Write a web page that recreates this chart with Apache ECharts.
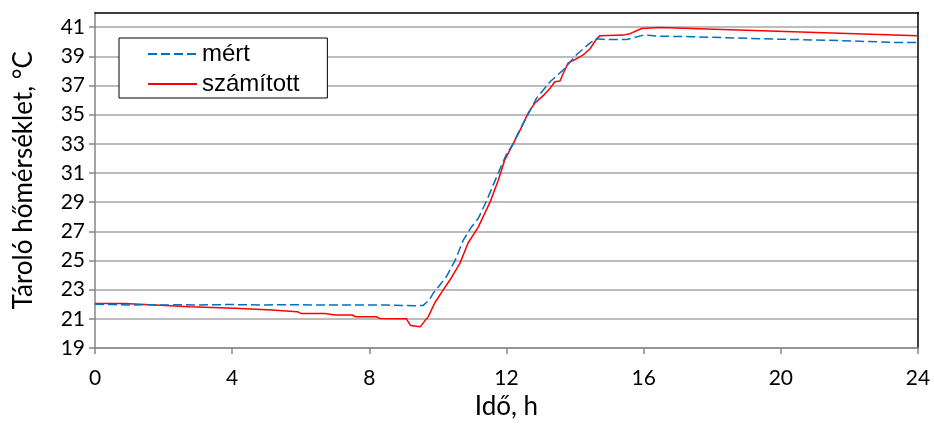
<!DOCTYPE html>
<html>
<head>
<meta charset="utf-8">
<script src="https://cdn.jsdelivr.net/npm/echarts@6/dist/echarts.min.js"></script>
<style>
html,body{margin:0;padding:0;background:#fff;}
#chart{width:934px;height:425px;}
</style>
</head>
<body>
<div id="chart"></div>
<script>
var seriesNames = ['mért', 'számított'];
var xTicks = [0, 4, 8, 12, 16, 20, 24];
var yTicks = [19, 21, 23, 25, 27, 29, 31, 33, 35, 37, 39, 41];

var mertHours = [0, 0.5, 1, 1.5, 2, 2.5, 3, 3.5, 4, 4.5, 5, 5.5, 6, 6.5, 7, 7.5, 8, 8.5, 9, 9.3, 9.57, 9.75, 9.86, 10.05, 10.25, 10.5, 10.74, 10.98, 11.18, 11.42, 11.6, 11.76, 12.0, 12.2, 12.29, 12.58, 12.87, 13.27, 13.65, 14.04, 14.43, 14.63, 14.9, 15.5, 15.99, 16.47, 17.4, 18.4, 19.4, 20.36, 21.3, 22.3, 23.27, 24];
var mertTemp = [22.0, 21.98, 21.95, 21.97, 21.95, 21.97, 21.95, 21.97, 21.98, 21.96, 21.95, 21.97, 21.96, 21.95, 21.94, 21.95, 21.95, 21.94, 21.92, 21.9, 21.92, 22.3, 22.75, 23.3, 23.9, 25.0, 26.4, 27.3, 27.9, 29.1, 30.1, 31.0, 32.3, 33.0, 33.5, 34.8, 36.1, 37.25, 38.05, 39.1, 39.9, 40.2, 40.15, 40.15, 40.45, 40.38, 40.34, 40.27, 40.2, 40.15, 40.1, 40.03, 39.95, 39.95];

var szamHours = [0, 0.85, 0.9, 1.75, 1.8, 2.77, 2.82, 4.08, 4.13, 5.15, 5.2, 5.9, 6.0, 6.7, 7.0, 7.5, 7.6, 8.2, 8.3, 9.08, 9.2, 9.48, 9.72, 9.91, 10.15, 10.35, 10.64, 10.88, 11.18, 11.52, 11.76, 11.95, 12.15, 12.39, 12.63, 12.83, 13.07, 13.27, 13.41, 13.56, 13.65, 13.8, 13.94, 14.24, 14.43, 14.63, 14.72, 15.4, 15.6, 15.94, 16.47, 24];
var szamTemp = [22.05, 22.05, 21.95, 21.95, 21.85, 21.83, 21.72, 21.72, 21.6, 21.6, 21.49, 21.49, 21.37, 21.37, 21.26, 21.26, 21.14, 21.14, 21.03, 21.0, 20.55, 20.45, 21.15, 22.1, 22.97, 23.66, 24.8, 26.2, 27.3, 29.0, 30.5, 31.9, 32.8, 33.9, 35.1, 35.8, 36.3, 36.8, 37.25, 37.3, 37.8, 38.55, 38.7, 39.1, 39.5, 40.2, 40.4, 40.45, 40.55, 40.9, 40.97, 40.4];

function pairs(xs, ys) { return xs.map(function (x, i) { return [x, ys[i]]; }); }

var chart = echarts.init(document.getElementById('chart'), null, {renderer: 'canvas'});
var axisGray = '#868686';
var tickFont = 'Lato, "Open Sans", sans-serif';
chart.setOption({
  animation: false,
  backgroundColor: '#fff',
  grid: {left: 95, right: 16, top: 12.5, bottom: 77, containLabel: false},
  legend: {
    data: seriesNames,
    orient: 'vertical',
    left: 119, top: 38,
    padding: [4, 28, 2, 28],
    itemGap: 6,
    itemWidth: 49, itemHeight: 14,
    borderColor: '#000', borderWidth: 1,
    backgroundColor: '#fff',
    itemStyle: {opacity: 0},
    textStyle: {fontFamily: '"Liberation Sans", Arial, sans-serif', fontSize: 24, lineHeight: 24, color: '#000'}
  },
  xAxis: [{
    type: 'value', min: 0, max: 24, interval: 4,
    name: 'Idő, h', nameLocation: 'middle', nameGap: 46,
    nameTextStyle: {fontFamily: tickFont, fontSize: 26, color: '#000'},
    axisLine: {show: true, lineStyle: {color: axisGray, width: 1.5}},
    axisTick: {show: true, inside: false, length: 6, lineStyle: {color: axisGray, width: 1.5}},
    axisLabel: {fontFamily: tickFont, fontSize: 21, color: '#000', margin: 20,
      customValues: xTicks},
    splitLine: {show: false}
  }, {
    type: 'value', min: 0, max: 24, position: 'top',
    axisLine: {show: true, onZero: false, lineStyle: {color: '#000', width: 1.5}},
    axisTick: {show: false}, axisLabel: {show: false}, splitLine: {show: false}
  }],
  yAxis: [{
    type: 'value', min: 19, max: 42, interval: 2,
    name: 'Tároló hőmérséklet, °C', nameLocation: 'middle', nameGap: 58, nameRotate: 90,
    nameTextStyle: {fontFamily: tickFont, fontSize: 26, color: '#000'},
    axisLine: {show: true, lineStyle: {color: axisGray, width: 1.5}},
    axisTick: {show: true, inside: false, length: 6, lineStyle: {color: axisGray, width: 1.5}, customValues: yTicks},
    axisLabel: {fontFamily: tickFont, fontSize: 21, color: '#000', margin: 10, customValues: yTicks},
    splitLine: {show: true, lineStyle: {color: '#a6a6a6', width: 1.5}}
  }, {
    type: 'value', min: 19, max: 42, position: 'right',
    axisLine: {show: true, onZero: false, lineStyle: {color: '#000', width: 1.5}},
    axisTick: {show: false}, axisLabel: {show: false}, splitLine: {show: false}
  }],
  series: [{
    name: seriesNames[0], type: 'line', xAxisIndex: 0, yAxisIndex: 0,
    data: pairs(mertHours, mertTemp),
    showSymbol: false, symbol: 'none', z: 3,
    lineStyle: {color: '#0070C0', width: 1.5, type: [9, 4]},
    itemStyle: {color: '#0070C0'}
  }, {
    name: seriesNames[1], type: 'line', xAxisIndex: 0, yAxisIndex: 0,
    data: pairs(szamHours, szamTemp),
    showSymbol: false, symbol: 'none', z: 2,
    lineStyle: {color: '#FF0000', width: 1.5},
    itemStyle: {color: '#FF0000'}
  }]
});
</script>
</body>
</html>
